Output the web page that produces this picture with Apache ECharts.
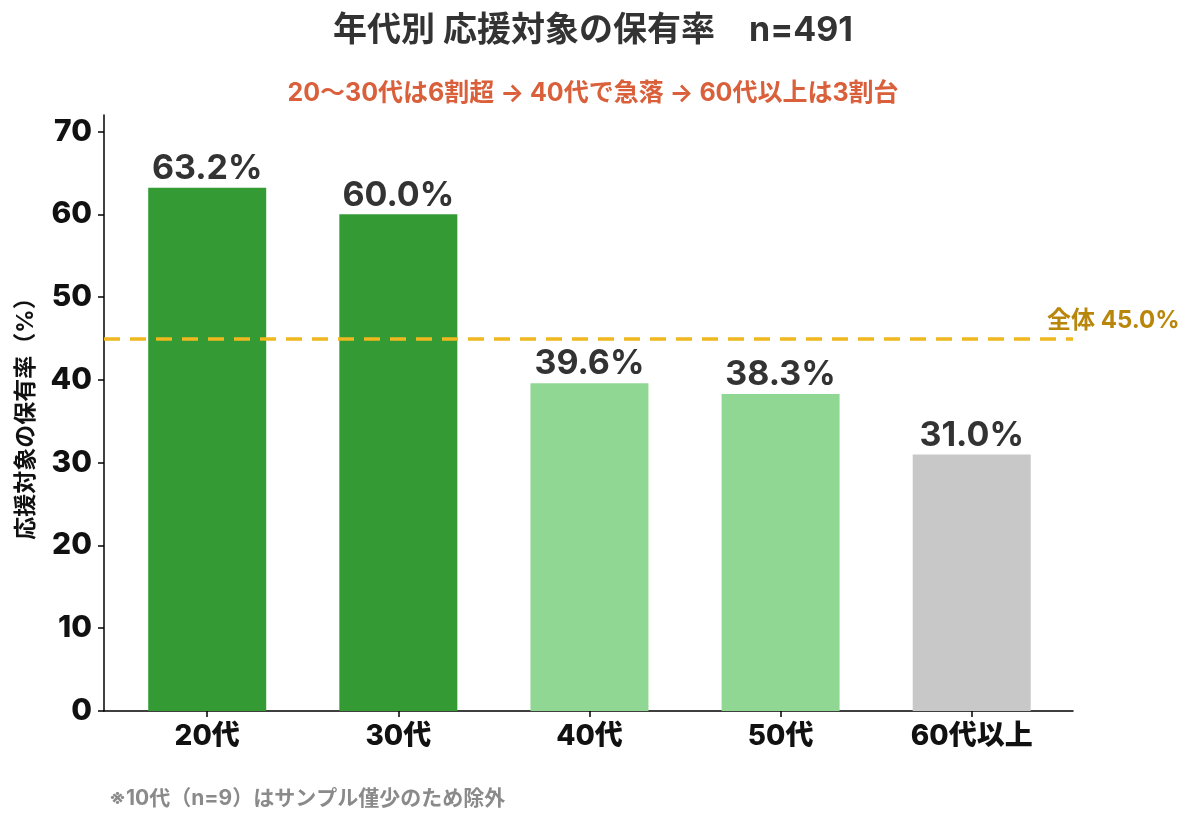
<!DOCTYPE html>
<html>
<head>
<meta charset="utf-8">
<script src="https://cdn.jsdelivr.net/npm/echarts@6/dist/echarts.min.js"></script>
<style>
  html, body { margin: 0; padding: 0; background: #fff; }
  #chart { width: 1200px; height: 820px; }
</style>
</head>
<body>
<div id="chart"></div>
<script>
// データ
const ageGroups = ['20代', '30代', '40代', '50代', '60代以上'];
const holdRates = [63.2, 60.0, 39.6, 38.3, 31.0];
const barColors = ['#349a34', '#349a34', '#91d794', '#91d794', '#c8c8c8'];
const overallRate = 45.0;
const yTicks = [0, 10, 20, 30, 40, 50, 60, 70];
const xPos = ageGroups.map((_, i) => i);

// 欧文はInter、和文はNoto CJKにフォールバック
const FONT = 'Inter, "Noto Sans CJK JP", sans-serif';

const chart = echarts.init(document.getElementById('chart'));

const option = {
  backgroundColor: '#fff',
  textStyle: { fontFamily: FONT },
  title: [
    {
      text: '年代別 応援対象の保有率　n=491',
      left: 588,
      textAlign: 'center',
      top: 9,
      textStyle: { fontSize: 34, fontWeight: 'bold', color: '#333', fontFamily: FONT }
    },
    {
      text: '20〜30代は6割超 → 40代で急落 → 60代以上は3割台',
      left: 588,
      textAlign: 'center',
      top: 76,
      textStyle: { fontSize: 25, fontWeight: 'bold', color: '#d9603b', fontFamily: FONT }
    },
    {
      text: '※10代（n=9）はサンプル僅少のため除外',
      left: 104,
      top: 783,
      textStyle: { fontSize: 21, fontWeight: 'bold', color: '#8a8a8a', fontFamily: FONT }
    }
  ],
  grid: { left: 104, right: 127, top: 115, bottom: 109 },
  xAxis: {
    type: 'value',
    min: -0.54,
    max: 4.53,
    splitLine: { show: false },
    axisLine: { onZero: false, lineStyle: { color: '#000', width: 1.5 } },
    axisTick: { show: true, length: 6, customValues: xPos, lineStyle: { color: '#000', width: 1.5 } },
    axisLabel: {
      fontSize: 28, fontWeight: 800, color: '#111', margin: 12, fontFamily: FONT,
      customValues: xPos,
      formatter: v => ageGroups[v]
    }
  },
  yAxis: {
    type: 'value',
    min: 0,
    max: 72,
    interval: 10,
    name: '応援対象の保有率（%）',
    nameLocation: 'middle',
    nameGap: 66,
    nameRotate: 90,
    nameTextStyle: { fontSize: 23, fontWeight: 'bold', color: '#111', fontFamily: FONT },
    axisLine: { show: true, onZero: false, lineStyle: { color: '#000', width: 1.5 } },
    axisTick: { show: true, length: 6, customValues: yTicks, lineStyle: { color: '#000', width: 1.5 } },
    axisLabel: { fontSize: 30, fontWeight: 800, color: '#111', margin: 12, customValues: yTicks, fontFamily: FONT },
    splitLine: { show: false }
  },
  series: [
    {
      type: 'bar',
      barWidth: 118,
      data: holdRates.map((v, i) => ({ value: [xPos[i], v], itemStyle: { color: barColors[i] } })),
      label: {
        show: true,
        position: 'top',
        distance: 2,
        formatter: p => p.value[1].toFixed(1) + '%',
        fontSize: 34,
        fontWeight: 'bold',
        color: '#333',
        fontFamily: FONT
      },
      markLine: {
        silent: true,
        symbol: ['none', 'none'],
        lineStyle: { color: '#f0b81f', type: [16, 10], width: 3.5 },
        label: {
          show: true,
          position: 'end',
          distance: 0,
          offset: [-26, -18],
          formatter: '全体 ' + overallRate.toFixed(1) + '%',
          fontSize: 24,
          fontWeight: 'bold',
          color: '#b8860b',
          fontFamily: FONT
        },
        data: [{ yAxis: overallRate }]
      }
    }
  ]
};

chart.setOption(option);
</script>
</body>
</html>
